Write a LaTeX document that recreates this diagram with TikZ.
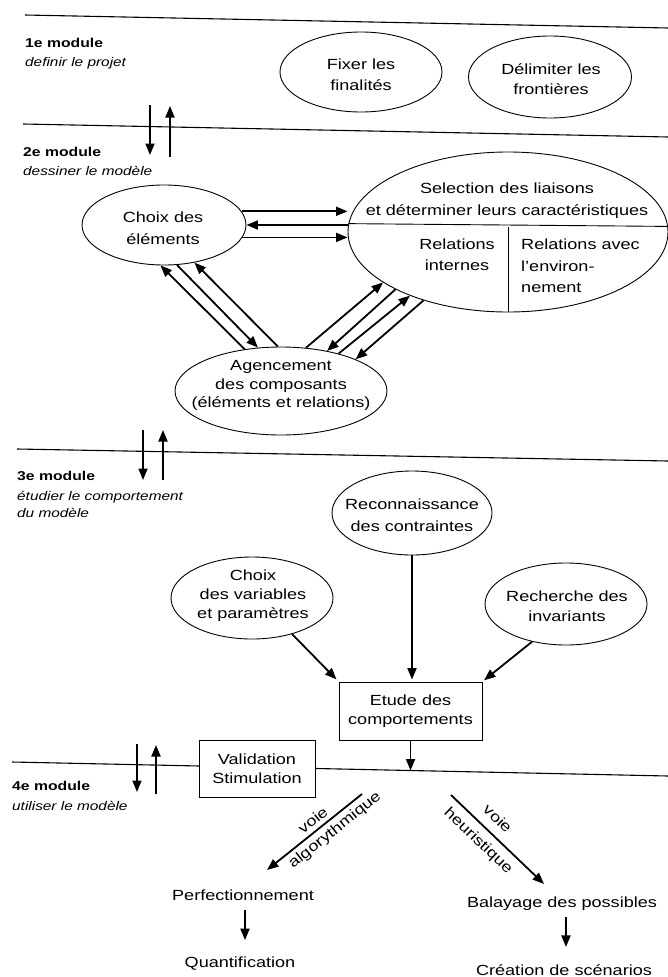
\documentclass[tikz,border=0pt]{standalone}
\usepackage{fontspec}
\setmainfont{Liberation Sans}[FakeStretch=1.23]
\usetikzlibrary{arrows.meta,shapes.geometric}
\begin{document}
\begin{tikzpicture}[x=1pt,y=-1pt,
  every node/.style={inner sep=0pt},
  ell/.style={draw, ellipse, line width=0.9pt, inner sep=0pt},
  txt/.style={align=center, font=\fontsize{14.7}{#1}\selectfont},
  txt/.default=20,
  boxn/.style={draw, line width=0.9pt, fill=white, align=center, font=\fontsize{14.7}{19}\selectfont},
  lbl/.style={anchor=base, font=\fontsize{14.7}{18}\selectfont},
  modb/.style={anchor=base west, font=\fontsize{12.8}{15}\selectfont\bfseries},
  modi/.style={anchor=base west, font=\fontsize{12.5}{15}\selectfont\itshape},
  sepl/.style={line width=1.1pt},
  arr/.style={-{Triangle[length=11.5pt,width=9pt]}, line width=1.8pt},
  slab/.style={sloped, font=\fontsize{14.7}{18}\selectfont}]
\useasboundingbox (0,0) rectangle (668,977);
\fill[white] (0,0) rectangle (668,977);

% separator lines
\coordinate (L1a) at (25,15);  \coordinate (L1b) at (668,28);
\coordinate (L2a) at (23,124); \coordinate (L2b) at (668,137);
\coordinate (L3a) at (17,449); \coordinate (L3b) at (668,461);
\coordinate (L4a) at (12,762); \coordinate (L4b) at (668,776);
\draw[sepl] (L1a) -- (L1b);
\draw[sepl] (L2a) -- (L2b);
\draw[sepl] (L3a) -- (L3b);
\draw[sepl] (L4a) -- (L4b);

% module labels
\node[modb] (m1) at (25,47) {1e module};
\node[modi] (m1i) at (25,66) {definir le projet};
\node[modb] (m2) at (23,156) {2e module};
\node[modi] (m2i) at (23,175) {dessiner le modèle};
\node[modb] (m3) at (17,480) {3e module};
\node[modi] (m3i) at (17,500) {étudier le comportement};
\node[modi] (m3j) at (17,517) {du modèle};
\node[modb] (m4) at (12,790) {4e module};
\node[modi] (m4i) at (12,810) {utiliser le modèle};

% module arrows
\coordinate (a1t) at (150,105); \coordinate (a1b) at (150,155);
\coordinate (b1b) at (170,157); \coordinate (b1t) at (170,106);
\draw[arr] (a1t) -- (a1b);
\draw[arr] (b1b) -- (b1t);
\coordinate (a2t) at (143,430); \coordinate (a2b) at (143,480);
\coordinate (b2b) at (163,480); \coordinate (b2t) at (163,430);
\draw[arr] (a2t) -- (a2b);
\draw[arr] (b2b) -- (b2t);
\coordinate (a3t) at (137,744); \coordinate (a3b) at (137,792);
\coordinate (b3b) at (156,794); \coordinate (b3t) at (156,745);
\draw[arr] (a3t) -- (a3b);
\draw[arr] (b3b) -- (b3t);

% module 1
\node[ell, minimum width=162pt, minimum height=80pt] (fixer) at (361,72) {};
\node[txt=21] (fixerT) at (361,75) {Fixer les\\finalités};
\node[ell, minimum width=163pt, minimum height=82pt] (delim) at (550,77) {};
\node[txt=20] (delimT) at (551,79.5) {Délimiter les\\frontières};

% module 2
\node[ell, minimum width=164pt, minimum height=80pt] (choix) at (164,225) {};
\node[txt=22] (choixT) at (163,228.5) {Choix des\\éléments};
\node[ell, minimum width=320pt, minimum height=160pt] (sel) at (508,232) {};
\node[txt=22] (selT) at (507,200.5) {Selection des liaisons\\et déterminer leurs caractéristiques};
\draw[line width=0.9pt] (sel.177) -- (sel.2);
\draw[line width=0.9pt] (sel.south) -- ([yshift=5pt]sel.center);
\node[txt=21] (relI) at (457,255) {Relations\\internes};
\node[txt=21.5, align=left, anchor=west] (relE) at (521,266) {Relations avec\\l'environ-\\nement};
\node[ell, minimum width=212pt, minimum height=88pt] (ag) at (281,391) {};
\node[txt=18.5] (agT) at (281,385.5) {Agencement\\des composants\\(éléments et relations)};

\draw[arr] (choix.10) -- (choix.10 -| sel.west);
\draw[arr] (sel.west |- choix.east) -- (choix.east);
\draw[arr] (choix.-9) -- (choix.-9 -| sel.west);

\draw[arr] (ag.131.5) -- (choix.-95.3);
\draw[arr] (choix.-72.8) -- (ag.118.4);
\draw[arr] (ag.94) -- (choix.-51.8);

\draw[arr] (ag.60.8) -- (sel.-158.7);
\draw[arr] (sel.-153.8) -- (ag.41.5);
\draw[arr] (ag.33.2) -- (sel.-147.5);
\draw[arr] (sel.-141.7) -- (ag.23.5);

% module 3
\node[ell, minimum width=162pt, minimum height=82pt] (choixv) at (252,598) {};
\node[txt=18.8] (choixvT) at (253,595.5) {Choix\\des variables\\et paramètres};
\node[ell, minimum width=160pt, minimum height=84pt] (recon) at (412,513) {};
\node[txt=22] (reconT) at (412,515.5) {Reconnaissance\\des contraintes};
\node[ell, minimum width=162pt, minimum height=82pt] (recher) at (566,604) {};
\node[txt=20] (recherT) at (567,606.5) {Recherche des\\invariants};
\node[boxn, minimum width=143pt, minimum height=58pt] (etude) at (410.5,711) {Etude des\\comportements};

\draw[arr, shorten >=3pt] (choixv.-42) -- (etude.north west);
\draw[arr, shorten >=2pt] (recon.south) -- (recon.south |- etude.north);
\draw[arr, shorten >=2pt] (recher.-132.6) -- (etude.north east);

\coordinate (l4x) at (410.5,770.5);
\draw[arr] (etude.south) -- (l4x);

% module 4
\node[boxn, minimum width=116pt, minimum height=57pt] (valid) at (257,768.5) {Validation\\Stimulation};

\node[lbl] (perf) at (243,900) {Perfectionnement};
\node[lbl] (quant) at (240,967) {Quantification};
\node[lbl] (bal) at (562,907) {Balayage des possibles};
\node[lbl] (crea) at (564,975) {Création de scénarios};

\coordinate (va1) at (362,794); \coordinate (va2) at (267,870);
\draw[arr] (va1) -- node[slab, above=4pt, pos=.45] (voieA) {voie}
                     node[slab, below=4pt, pos=.36] (algo) {algorythmique} (va2);
\coordinate (vh1) at (451,795); \coordinate (vh2) at (544,884);
\draw[arr] (vh1) -- node[slab, above=9pt, pos=.39] (voieH) {voie}
                     node[slab, below=7pt, pos=.40] (heur) {heuristique} (vh2);

\draw[arr, shorten <=10pt, shorten >=16pt] ([xshift=2pt]perf.south) -- ([xshift=2pt]perf.south |- quant.north);
\draw[arr, shorten <=7pt, shorten >=17pt] ([xshift=4pt]bal.south) -- ([xshift=4pt]bal.south |- crea.north);
\end{tikzpicture}
\end{document}
